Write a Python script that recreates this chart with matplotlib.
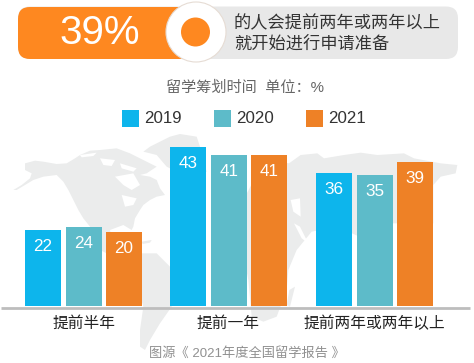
import matplotlib
matplotlib.use("Agg")
import matplotlib.pyplot as plt
from matplotlib.patches import Circle, FancyBboxPatch, Polygon, Rectangle

plt.rcParams['font.family'] = ['Liberation Sans', 'Noto Sans CJK SC', 'DejaVu Sans']

# data
categories = ['提前半年', '提前一年', '提前两年或两年以上']
years = ['2019', '2020', '2021']
# printed labels
labels_2019 = [22, 43, 36]
labels_2020 = [24, 41, 35]
labels_2021 = [20, 41, 39]
# bar heights as drawn in the picture (first group is a bit shorter than its labels)
heights_2019 = [20.5, 43, 36]
heights_2020 = [21.4, 40.8, 35.4]
heights_2021 = [20, 40.8, 38.9]

blue = '#0db5ec'
teal = '#5dbbc9'
orange = '#ee8126'
map_grey = '#ebecec'

fig = plt.figure(figsize=(4.74, 3.63), dpi=100)

# whole figure in pixel coords, for the header and the background map
bg = fig.add_axes([0, 0, 1, 1])
bg.set_xlim(0, 474)
bg.set_ylim(363, 0)
bg.axis('off')


def from_crop(points):
    # map outlines were traced on a 3x crop starting at y=130
    return [(x / 3, y / 3 + 130) for x, y in points]


north_america = [(75, 100), (105, 92), (130, 95), (170, 102), (200, 100), (225, 85), (240, 75), (270, 62), (300, 60),
                 (350, 55), (390, 70), (420, 85), (470, 110), (440, 130), (420, 135), (450, 140), (470, 150),
                 (480, 175), (495, 195), (470, 200), (450, 210), (430, 225), (420, 240), (405, 265), (400, 290),
                 (395, 300), (370, 285), (330, 300), (340, 350), (400, 385), (440, 400), (420, 420), (370, 395),
                 (300, 360), (270, 290), (250, 265), (235, 240), (220, 210), (205, 180), (190, 155), (170, 135),
                 (130, 140), (100, 150), (75, 165), (50, 180), (40, 180), (65, 165), (90, 145), (95, 130), (75, 120)]
greenland = [(430, 65), (450, 50), (480, 35), (510, 20), (540, 12), (590, 20), (600, 50), (610, 90), (620, 125),
             (600, 135), (560, 140), (530, 125), (500, 110), (470, 75)]
south_america = [(425, 370), (470, 370), (510, 410), (515, 530), (480, 580), (450, 630), (435, 660), (420, 650),
                 (420, 600), (430, 530), (410, 460)]
eurasia_africa = [(735, 200), (770, 135), (800, 90), (867, 100), (902, 75), (952, 70), (972, 85), (1032, 75),
                  (1082, 68), (1132, 75), (1212, 70), (1242, 85), (1322, 100), (1372, 105), (1367, 130), (1322, 140),
                  (1300, 165), (1300, 280), (1180, 280), (1100, 330), (1056, 310), (960, 300), (935, 305),
                  (890, 360), (865, 420), (860, 480), (830, 560), (790, 575), (755, 560), (745, 450), (735, 400),
                  (720, 330), (700, 260)]
madagascar = [(885, 470), (870, 530), (860, 525), (868, 480)]
cuba = [(425, 335), (455, 330), (450, 338), (428, 342)]

for shape in [north_america, greenland, south_america, eurasia_africa, madagascar, cuba]:
    bg.add_patch(Polygon(from_crop(shape), closed=True, fc=map_grey, ec='none', zorder=1))

# water cut out of the land
hudson = [(345, 140), (400, 130), (420, 165), (395, 180), (370, 165)]
lakes = [(365, 195), (410, 205), (400, 225), (375, 230)]
black_sea = [(872, 210), (900, 205), (902, 260), (880, 245)]
red_sea = [(882, 280), (900, 290), (925, 340), (905, 325)]
arctic1 = [(240, 75), (290, 68), (280, 78), (245, 82)]
arctic2 = [(300, 85), (345, 90), (335, 108), (310, 105)]
arctic3 = [(360, 100), (410, 115), (400, 125), (365, 115)]
for shape in [hudson, lakes, black_sea, red_sea, arctic1, arctic2, arctic3]:
    bg.add_patch(Polygon(from_crop(shape), closed=True, fc='white', ec='none', zorder=2))

# header pill
bg.add_patch(FancyBboxPatch((18, 6.5), 440, 52.5, boxstyle='round,pad=0,rounding_size=12',
                            fc='#e8e8e8', ec='none', zorder=3))
bg.add_patch(FancyBboxPatch((18, 7), 177, 52, boxstyle='round,pad=0,rounding_size=12',
                            fc='#fe8820', ec='none', zorder=4))
bg.add_patch(Circle((196, 32), 30, fc='white', ec='#e6dcd4', lw=0.8, zorder=5))
bg.add_patch(Circle((195.5, 32), 14.5, fc='#fe8820', ec='none', zorder=6))
bg.text(99.5, 32.5, '39%', color='white', fontsize=29, ha='center', va='center', zorder=7)
bg.text(234, 23.5, '的人会提前两年或两年以上', color='#333333', fontsize=12.4, va='center', zorder=7)
bg.text(234, 43.5, '就开始进行申请准备', color='#333333', fontsize=12.4, va='center', zorder=7)

bg.text(245, 88, '留学筹划时间  单位：%', color='#666666', fontsize=10.9, ha='center', va='center')

# legend
legend_x = [122, 214, 306]
for lx, year, color in zip(legend_x, years, [blue, teal, orange]):
    bg.add_patch(Rectangle((lx, 110), 17, 17, fc=color, ec='none', zorder=3))
    bg.text(lx + 22, 118.5, year, color='#333333', fontsize=12.2, va='center')

# bars: y scale is 3.7 px per unit, baseline at y=306
ax = fig.add_axes([0, (363 - 306) / 363, 1, 306 / 363])
ax.patch.set_alpha(0)
ax.set_xlim(0, 474)
ax.set_ylim(0, 306 / 3.7)
ax.axis('off')

centers = [84, 229, 375]
offsets = [-41, 0, 40]
series = [(heights_2019, labels_2019, blue),
          (heights_2020, labels_2020, teal),
          (heights_2021, labels_2021, orange)]
for off, (heights, labels, color) in zip(offsets, series):
    xs = [c + off for c in centers]
    ax.bar(xs, heights, width=36, color=color, zorder=3)
    for x, h, lab in zip(xs, heights, labels):
        ax.annotate(str(lab), (x, h), xytext=(0, -11.7), textcoords='offset points',
                    ha='center', va='center', color='white', fontsize=12.3, zorder=4)

# baseline and text below it
bg.plot([1, 470], [307.5, 307.5], color='#bdbdbd', lw=2, solid_capstyle='butt', zorder=3)
label_x = [84, 228, 374.5]
for x, cat in zip(label_x, categories):
    bg.text(x, 323, cat, color='#222222', fontsize=11.3, ha='center', va='center', zorder=3)
bg.text(247, 353, '图源《 2021年度全国留学报告 》', color='#909090', fontsize=9.5, ha='center', va='center', zorder=3)

fig.savefig('out.png', dpi=100)
